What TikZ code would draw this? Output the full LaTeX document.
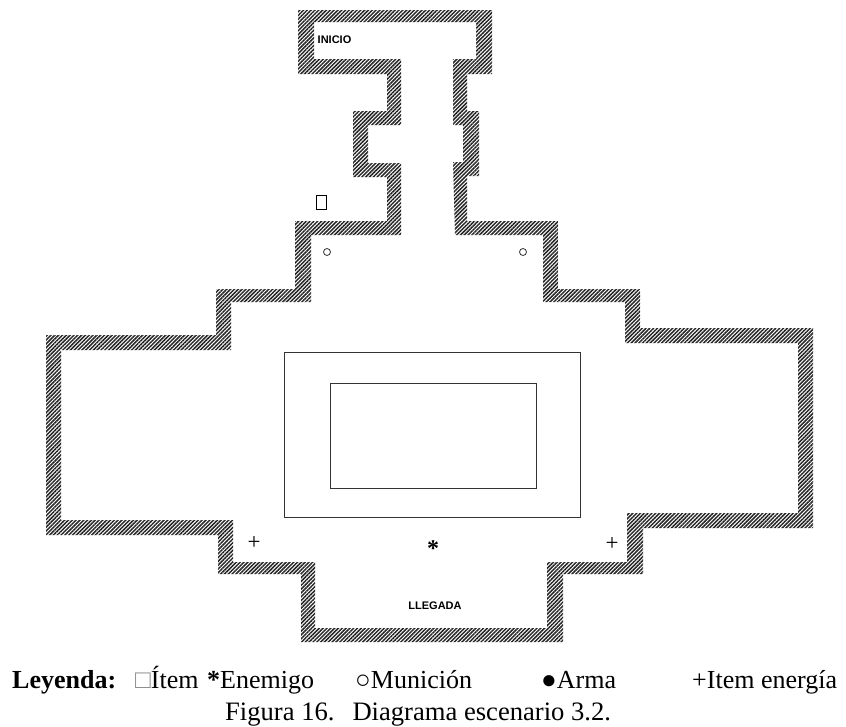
\documentclass[tikz,border=0pt]{standalone}
\usepackage{fontspec}
\setmainfont{Liberation Serif}
\newfontfamily\labelfont{Liberation Sans}
\usetikzlibrary{patterns.meta}

\begin{document}
\begin{tikzpicture}[x=1pt, y=-1pt]
        \tikzset{
            wall/.style={
                even odd rule,
                pattern={Lines[angle=45, distance=2.7pt, line width=1.5pt]},
                pattern color=black!85
            },
            room/.style={
                draw=black!80,
                line width=1pt
            },
            mark_item/.style={
                inner sep=0pt,
                font=\fontsize{#1}{#1}\selectfont
            },
            map_label/.style={
                inner sep=0pt,
                font=\labelfont\bfseries\fontsize{#1}{#1}\selectfont
            },
            legend/.style={
                anchor=base west,
                inner sep=0pt,
                font=\fontsize{26}{26}\selectfont
            }
        }
        \useasboundingbox (0,0) rectangle (846,726);

        %paredes
        \fill[wall]
            (298,10) -- (492,10) -- (492,74) -- (467,74) -- (467,111) -- (479,111)
            -- (479,176) -- (467,176) -- (467,221) -- (558,221) -- (558,289) -- (640,289)
            -- (640,328) -- (813,328) -- (813,528) -- (643,528) -- (643,574) -- (563,574)
            -- (563,642) -- (301,642) -- (301,574) -- (218,574) -- (218,535) -- (46,535)
            -- (46,335) -- (216,335) -- (216,289) -- (295,289) -- (295,221) -- (387,221)
            -- (387,177) -- (353,177) -- (353,111) -- (387,111) -- (387,74) -- (298,74) -- cycle
            (453,59) -- (476,59) -- (476,22) -- (314,22) -- (314,59) -- (401,59)
            -- (401,125) -- (368,125) -- (368,163) -- (401,163) -- (401,235) -- (311,235)
            -- (311,302) -- (231,302) -- (231,350) -- (61,350) -- (61,520) -- (233,520)
            -- (233,562) -- (315,562) -- (315,628) -- (547,628) -- (547,562) -- (627,562)
            -- (627,513) -- (798,513) -- (798,343) -- (625,343) -- (625,302) -- (543,302)
            -- (543,235) -- (455,235) -- (453,162) -- (463,162) -- (463,125) -- (453,125) -- cycle;

        %salas centrales
        \draw[room] (284,352) rectangle (580,517);
        \draw[room] (330,383) rectangle (536,488);

        %items
        \draw[black, line width=1pt] (316.5,195.5) rectangle (326,209);
        \draw[black!80, line width=0.8pt] (327,252) circle (3.5);
        \draw[black!80, line width=0.8pt] (523,252) circle (3.5);
        \node[mark_item=23] (energia_izq) at (254,543) {+};
        \node[mark_item=23] (energia_der) at (612,544) {+};
        \node[mark_item=24] (enemigo) at (433,548.5) {\textbf{*}};

        \node[map_label=11] (inicio) at (334.5,40) {INICIO};
        \node[map_label=11] (llegada) at (435,606) {LLEGADA};

        %leyenda
        \node[legend] (ley) at (12,688.5) {\textbf{Leyenda:}};
        \node[legend] (ley_item) at (135,688.5) {\textcolor{black!45}{□}Ítem};
        \node[legend] (ley_enemigo) at (207,688.5) {\textbf{*}Enemigo};
        \node[legend] (ley_municion) at (355,688.5) {○Munición};
        \node[legend] (ley_arma) at (541,688.5) {●Arma};
        \node[legend] (ley_energia) at (692,688.5) {+Item energía};
        \node[legend, font=\fontsize{26.6}{26.6}\selectfont] (caption) at (225,720) {Figura 16.\hspace{18pt}Diagrama escenario 3.2.};
    \end{tikzpicture}
\end{document}
